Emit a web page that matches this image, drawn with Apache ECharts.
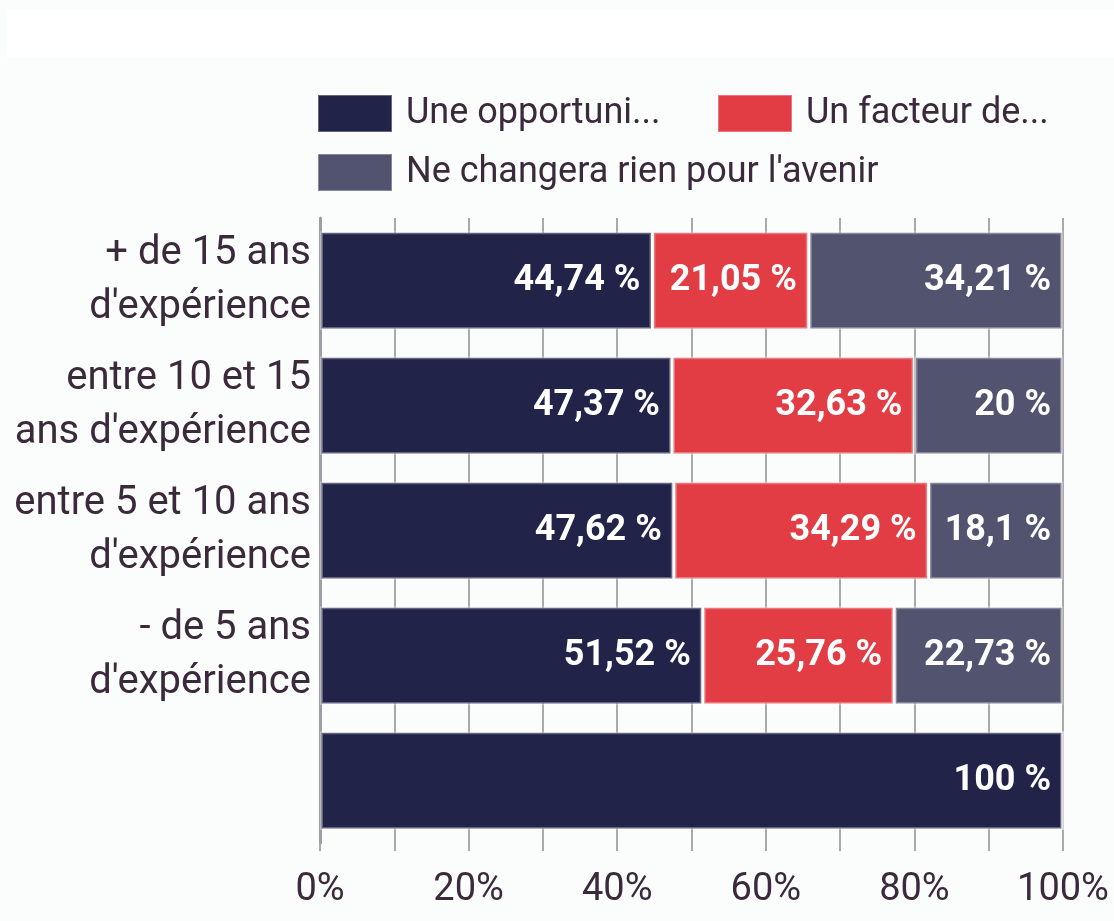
<!DOCTYPE html>
<html>
<head>
<meta charset="utf-8">
<script src="https://cdn.jsdelivr.net/npm/echarts@6/dist/echarts.min.js"></script>
<style>
  html, body { margin: 0; padding: 0; background: #fbfcfc; }
  #chart { width: 1114px; height: 921px; }
</style>
</head>
<body>
<div id="chart"></div>
<script>
// Experience groups (top to bottom); the last row has no label
const categories = [
  "+ de 15 ans\nd'expérience",
  "entre 10 et 15\nans d'expérience",
  "entre 5 et 10 ans\nd'expérience",
  "- de 5 ans\nd'expérience",
  ""
];

const seriesNames = [
  "Une opportuni...",
  "Un facteur de...",
  "Ne changera rien pour l'avenir"
];

// Shares in percent per group
const opportunite = [44.74, 47.37, 47.62, 51.52, 100];
const facteur     = [21.05, 32.63, 34.29, 25.76, 0];
const neChangera  = [34.21, 20, 18.1, 22.73, 0];

const xTicks = [0, 20, 40, 60, 80, 100];

const colors = ['#212349', '#e23d45', '#52536f'];
const FONT = 'Roboto, "Noto Sans", sans-serif';

const chart = echarts.init(document.getElementById('chart'), null, { renderer: 'canvas' });

const fmtValue = p => p.value ? String(p.value).replace('.', ',') + ' %' : '';

function barSeries(name, data, color) {
  return {
    name: name,
    type: 'bar',
    stack: 'total',
    data: data,
    barCategoryGap: '21%',
    itemStyle: { color: color, borderColor: 'rgba(255,255,255,0.3)', borderWidth: 3 },
    label: {
      show: true,
      position: 'insideRight',
      distance: 12,
      formatter: fmtValue,
      color: '#ffffff',
      fontFamily: FONT,
      fontSize: 36,
      fontWeight: 'bold'
    },
    emphasis: { disabled: true }
  };
}

function legendAt(name, left, top) {
  return {
    data: [name],
    left: left,
    top: top,
    padding: 0,
    icon: 'rect',
    itemWidth: 74,
    itemHeight: 37,
    selectedMode: false,
    textStyle: {
      fontFamily: FONT,
      fontSize: 36,
      color: '#3a2a3c',
      padding: [0, 0, 0, 9]
    }
  };
}

chart.setOption({
  backgroundColor: '#fbfcfc',
  animation: false,
  color: colors,
  graphic: [{
    type: 'rect',
    left: 7, top: 10,
    shape: { width: 1107, height: 48 },
    style: { fill: '#ffffff' },
    silent: true,
    z: -10
  }],
  legend: [
    legendAt(seriesNames[0], 317, 94),
    legendAt(seriesNames[1], 717, 94),
    legendAt(seriesNames[2], 317, 153)
  ],
  grid: { left: 320, right: 51, top: 218, bottom: 78, containLabel: false },
  xAxis: {
    type: 'value',
    min: 0,
    max: 100,
    interval: 10,
    axisLine: { show: false },
    axisTick: { show: true, length: 8, lineStyle: { color: '#a9a9ad', width: 2 } },
    splitLine: { show: true, lineStyle: { color: '#a9a9ad', width: 2 } },
    axisLabel: {
      margin: 28,
      fontFamily: FONT,
      fontSize: 38,
      color: '#3a2a3c',
      formatter: v => xTicks.includes(v) ? v + '%' : ''
    }
  },
  yAxis: {
    type: 'category',
    inverse: true,
    data: categories,
    axisLine: { show: true, lineStyle: { color: '#a09ca6', width: 3 } },
    axisTick: { show: false },
    axisLabel: {
      margin: 9,
      fontFamily: FONT,
      fontSize: 40,
      lineHeight: 54,
      color: '#3a2a3c',
      align: 'right'
    }
  },
  series: [
    barSeries(seriesNames[0], opportunite, colors[0]),
    barSeries(seriesNames[1], facteur, colors[1]),
    barSeries(seriesNames[2], neChangera, colors[2])
  ]
});
</script>
</body>
</html>
